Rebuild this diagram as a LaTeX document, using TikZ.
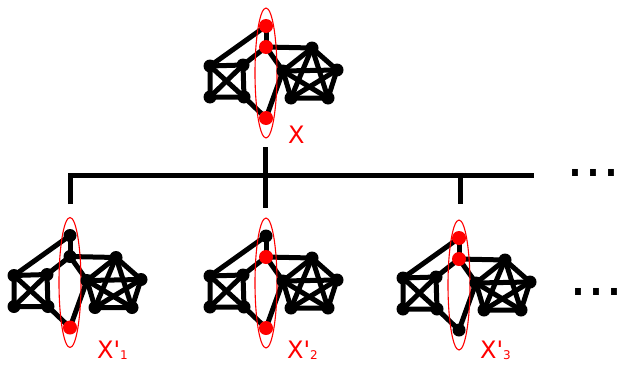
\documentclass[tikz,border=0pt]{standalone}
\usepackage{fontspec}
\setmainfont{DejaVu Sans}
\newfontfamily\labfont{DejaVu Sans}
\usetikzlibrary{shapes.geometric}
\pgfdeclarelayer{background}
\pgfsetlayers{background,main}
\tikzset{
  bdot/.style={circle, fill=black, inner sep=0pt, minimum size=13pt},
  rdot/.style={circle, fill=red, inner sep=0pt, minimum size=14pt},
  edge/.style={line width=5pt, line cap=round},
  ring/.style={ellipse, draw=red, line width=1.1pt, inner sep=0pt, minimum width=22pt, minimum height=130pt},
  lab/.style={text=red, font=\labfont\fontsize{24}{24}\selectfont, anchor=base west, inner sep=0pt},
  dotstext/.style={font=\fontsize{56.6}{60}\selectfont, anchor=base west, inner sep=0pt},
  bar/.style={line width=5pt},
}
\newcommand\gph[5]{%
  \begin{scope}[shift={(#2)}]
    \node[ring] (#1e) at (0,47) {};
    \node[#3] (#1a) at (0,0) {};
    \node[#4] (#1b) at (0,21) {};
    \node[#5] (#1c) at (0,92) {};
    \node[bdot] (#1s1) at (-56,40) {};
    \node[bdot] (#1s2) at (-23,39) {};
    \node[bdot] (#1s3) at (-56,71) {};
    \node[bdot] (#1s4) at (-22,71) {};
    \node[bdot] (#1p1) at (46,22) {};
    \node[bdot] (#1p2) at (71,44) {};
    \node[bdot] (#1p3) at (62,72) {};
    \node[bdot] (#1p4) at (25,72) {};
    \node[bdot] (#1p5) at (17,45) {};
  \end{scope}
  \begin{pgfonlayer}{background}
    \draw[edge] (#1a.center)--(#1b.center);
    \draw[edge] (#1a.center)--(#1s1.center);
    \draw[edge] (#1b.center)--(#1p1.center);
    \draw[edge] (#1b.center)--(#1s2.center);
    \draw[edge] (#1b.center)--(#1p5.center);
    \draw[edge] (#1c.center)--(#1s4.center);
    \draw[edge] (#1c.center)--(#1p5.center);
    \draw[edge] (#1s1.center)--(#1s2.center)--(#1s4.center)--(#1s3.center)--cycle;
    \draw[edge] (#1s1.center)--(#1s4.center);
    \draw[edge] (#1s2.center)--(#1s3.center);
    \draw[edge] (#1p1.center)--(#1p2.center)--(#1p3.center)--(#1p4.center)--(#1p5.center)--cycle;
    \draw[edge] (#1p1.center)--(#1p3.center);
    \draw[edge] (#1p1.center)--(#1p4.center);
    \draw[edge] (#1p2.center)--(#1p4.center);
    \draw[edge] (#1p2.center)--(#1p5.center);
    \draw[edge] (#1p3.center)--(#1p5.center);
  \end{pgfonlayer}
}
\newcommand\xsub[1]{X'\raisebox{-1pt}{\fontsize{12}{12}\selectfont #1}}
\begin{document}
\begin{tikzpicture}[x=1pt,y=-1pt]
  \useasboundingbox (0,0) rectangle (618,364);
  % top graph and its label
  \gph{t}{266,26}{rdot}{rdot}{rdot}
  \node[lab] (tl) at (288,143) {X};
  % tree
  \coordinate (tb0) at (70,204);
  \coordinate (tb1) at (534,175);
  \coordinate (tm0) at (265,147);
  \coordinate (tm1) at (265,208);
  \coordinate (tr0) at (460,175);
  \coordinate (tr1) at (460,204);
  \draw[bar] (tb0) |- (tb1);
  \draw[bar] (tm0) -- (tm1);
  \draw[bar] (tr0) -- (tr1);
  \node[dotstext] (dots1) at (566,176) {...\kern-6pt};
  % bottom graphs
  \gph{u}{70,235.5}{bdot}{bdot}{rdot}
  \gph{v}{266,236}{bdot}{rdot}{rdot}
  \gph{w}{459,238}{rdot}{rdot}{bdot}
  \node[lab] (ul) at (97,358) {\xsub{1}};
  \node[lab] (vl) at (287,358) {\xsub{2}};
  \node[lab] (wl) at (480,358) {\xsub{3}};
  \node[dotstext] (dots2) at (569,295) {...\kern-6pt};
\end{tikzpicture}
\end{document}
